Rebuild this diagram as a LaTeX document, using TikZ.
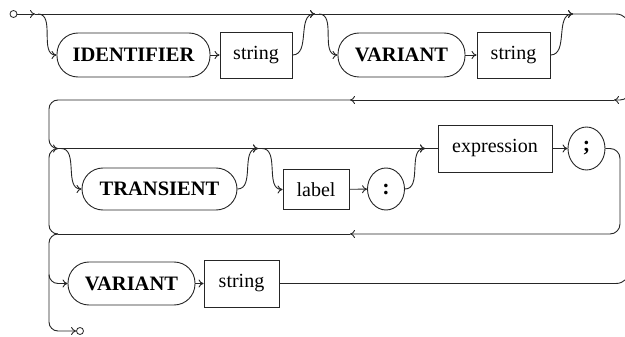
\documentclass[tikz,border=0pt]{standalone}
\usepackage{fontspec}
\setmainfont{Liberation Serif}
\usetikzlibrary{arrows.meta,shapes.geometric}
\begin{document}
\begin{tikzpicture}[x=1pt,y=-1pt, line width=0.9pt, draw=black!85,
  >={Computer Modern Rightarrow[length=5pt,width=8pt]},
  term/.style={draw, rounded corners=21pt, font=\fontsize{20.5}{24}\selectfont\bfseries, inner sep=0pt, minimum height=44pt},
  nt/.style={draw, font=\fontsize{20}{24}\selectfont, inner sep=0pt, minimum height=46pt},
  sym/.style={draw, ellipse, font=\fontsize{22}{26}\selectfont\bfseries, inner sep=0pt, minimum width=37pt, minimum height=42pt},
  dot/.style={draw, circle, inner sep=0pt, minimum size=7pt, line width=0.8pt},
  scurve/.style={out=0,in=180}]
\useasboundingbox (0,0) rectangle (625,337);

% nodes
\node[dot] (st) at (13.5,14) {};
\node[term, minimum width=153pt] (id) at (133.5,55) {IDENTIFIER};
\node[nt, minimum width=72pt] (s1) at (256,55) {string};
\node[term, minimum width=127pt] (v1) at (401.5,55) {VARIANT};
\node[nt, minimum width=73pt] (s2) at (513.5,55) {string};
\node[term, minimum width=155pt, minimum height=42pt] (tr) at (159.5,189) {TRANSIENT};
\node[nt, minimum width=66pt, minimum height=40pt] (lab) at (316,189.5) {label};
\node[sym] (col) at (386,189) {:};
\node[nt, minimum width=114pt, minimum height=47pt] (ex) at (495,148.5) {expression};
\node[sym, minimum height=43pt] (sc) at (586.5,148.5) {;};
\node[term, minimum width=127pt, minimum height=43pt] (v2) at (131.5,283.5) {VARIANT};
\node[nt, minimum width=75pt, minimum height=47pt] (s3) at (241.5,283.5) {string};
\node[dot] (en) at (80,331) {};

% coordinates
\coordinate (a0) at (35,14);
\coordinate (b1) at (38,14);
\coordinate (m1) at (315,14);
\coordinate (b2) at (319,14);
\coordinate (m2) at (573,14);
\coordinate (tr1) at (630,14);
\coordinate (trm) at (630,60);
\coordinate (tr2) at (630,100);
\coordinate (r1) at (614,100);
\coordinate (r2) at (350,100);
\coordinate (l0) at (58,100);
\coordinate (l1) at (49,109);
\coordinate (l2) at (49,139.5);
\coordinate (j2) at (58,148.5);
\coordinate (b3) at (61,148.5);
\coordinate (m3) at (258,148.5);
\coordinate (b4) at (262,148.5);
\coordinate (m4) at (425,148.5);
\coordinate (lr1) at (620,148.5);
\coordinate (lr2) at (620,234);
\coordinate (r3) at (350,234);
\coordinate (j3) at (58,234);
\coordinate (k1) at (49,157.5);
\coordinate (k2) at (49,225);
\coordinate (k3) at (49,243);
\coordinate (k4) at (49,274.5);
\coordinate (k5) at (58,283.5);
\coordinate (k6) at (49,322);
\coordinate (k7) at (58,331);
\coordinate (br1) at (630,283.5);
\coordinate (br2) at (630,250);

% row 1
\draw[->] (st) -- (a0);
\draw[->] (a0) -- (m1);
\draw[->] (b1) to[scurve] (id.west);
\draw[->] (id) -- (s1);
\draw[->] (s1.east) to[scurve] (m1);
\draw[->] (m1) -- (m2);
\draw[->] (b2) to[scurve] (v1.west);
\draw[->] (v1) -- (s2);
\draw[->] (s2.east) to[scurve] (m2);
\draw[rounded corners=14pt] (m2) -- (tr1) -- (trm);
\draw[->, rounded corners=10pt] (trm) -- (tr2) -- (r1);
\draw[->] (r1) -- (r2);
\draw[->] (r2) -- (l0) to[out=180,in=90] (l1) -- (l2) to[out=270,in=180] (j2);

% row 2
\draw[->] (j2) -- (m3);
\draw[->] (b3) to[scurve] (tr.west);
\draw[->] (tr.east) to[scurve] (m3);
\draw[->] (m3) -- (m4);
\draw[->] (b4) to[scurve] (lab.west);
\draw[->] (lab) -- (col);
\draw[->] (col.east) to[scurve] (m4);
\draw (m4) -- (ex);
\draw[->] (ex) -- (sc);
\draw[->, rounded corners=10pt] (sc.east) -- (lr1) -- (lr2) -- (r3);
\draw (r3) -- (j3);
\draw (j2) to[out=180,in=90] (k1) -- (k2) to[out=270,in=180] (j3);

% row 3
\draw (j3) to[out=180,in=90] (k3) -- (k4);
\draw[->] (k4) to[out=270,in=180] (k5) -- (v2.west);
\draw[->] (k4) -- (k6) to[out=270,in=180] (k7) -- (en.west);
\draw[->] (v2) -- (s3);
\draw[rounded corners=14pt] (s3.east) -- (br1) -- (br2);
\end{tikzpicture}
\end{document}
